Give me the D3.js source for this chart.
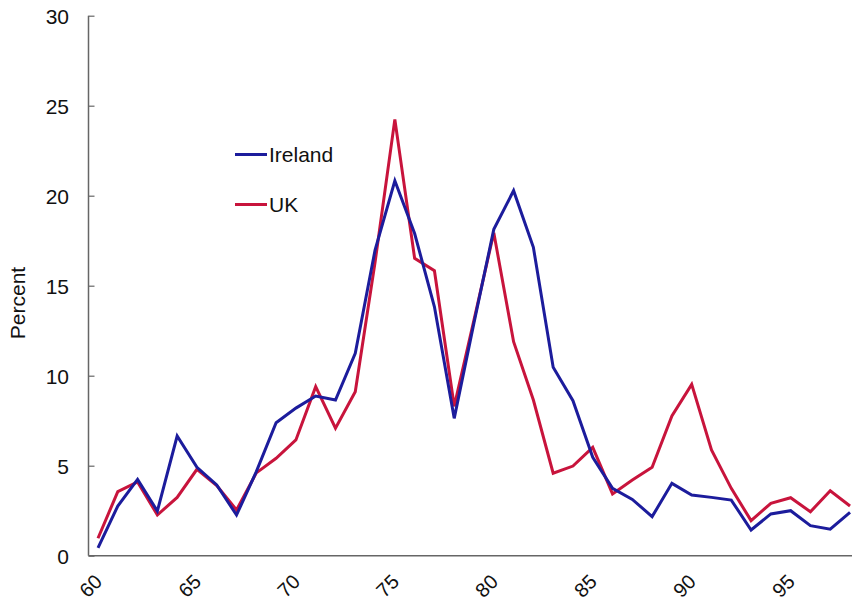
<!DOCTYPE html>
<html><head><meta charset="utf-8">
<script src="https://cdn.jsdelivr.net/npm/d3@7"></script>
<style>body{margin:0;background:#fff}svg{display:block;font-family:"Liberation Sans",Arial,sans-serif}</style>
</head><body>
<svg id="c" width="854" height="604"></svg>
<script>
const years = d3.range(60, 99);
const ireland = [0.44,2.76,4.24,2.48,6.65,4.91,3.93,2.26,4.67,7.39,8.2,8.87,8.65,11.24,16.98,20.83,17.9,13.83,7.63,12.94,18.13,20.28,17.13,10.47,8.61,5.47,3.74,3.13,2.17,4.02,3.37,3.24,3.09,1.43,2.32,2.5,1.67,1.47,2.41];
const uk = [0.97,3.56,4.1,2.26,3.24,4.8,3.9,2.54,4.6,5.41,6.43,9.39,7.08,9.11,16.3,24.24,16.52,15.83,8.3,13.1,17.94,11.89,8.65,4.58,4.98,6.02,3.43,4.2,4.91,7.76,9.52,5.87,3.74,1.95,2.91,3.22,2.44,3.61,2.76];
const yTicks = [0,5,10,15,20,25,30];
const xTicks = [60,65,70,75,80,85,90,95];
const seriesNames = ["Ireland","UK"];
const colors = ["#1c1c9c","#c8143c"];

const svg = d3.select("#c");
const x = d3.scaleLinear().domain([59.52, 98.1]).range([88.5, 852]);
const y = d3.scaleLinear().domain([0, 30]).range([555.7, 15.7]);

// y axis
const ya = svg.append("g").attr("transform","translate(88.5,0)")
  .call(d3.axisRight(y).tickValues(yTicks).tickSize(6));
ya.select(".domain").attr("stroke","#666").attr("stroke-width",1.5).attr("d","M0,15.7V555.7");
ya.selectAll(".tick line").attr("stroke","#666").attr("stroke-width",1.2);
ya.selectAll(".tick text").attr("text-anchor","end").attr("x",-19.5).attr("dy","0.36em")
  .attr("font-size",21).attr("fill","#111").attr("font-family","Liberation Sans, Arial, sans-serif");

// x axis
const xa = svg.append("g").attr("transform","translate(0,555.7)")
  .call(d3.axisBottom(x).tickValues(xTicks).tickSize(0).tickFormat(d3.format("d")));
xa.select(".domain").attr("stroke","#666").attr("stroke-width",1.5).attr("d","M88.5,0H852");
xa.selectAll(".tick text").attr("y",0).attr("dy","0.36em")
  .attr("transform","translate(-8,30) rotate(-45)").attr("text-anchor","middle")
  .attr("font-size",20).attr("fill","#111").attr("font-family","Liberation Sans, Arial, sans-serif");

// y label
svg.append("text").attr("transform","translate(25,303) rotate(-90)").attr("text-anchor","middle")
  .attr("font-size",21).attr("fill","#111").text("Percent");

const line = d3.line().x((d,i)=>x(years[i])).y(d=>y(d));
[uk, ireland].forEach((s,k)=>{
  const idx = k===0?1:0;
  svg.append("path").datum(s).attr("d",line).attr("fill","none")
    .attr("stroke",colors[idx]).attr("stroke-width",3).attr("stroke-linejoin","miter");
});

// legend
const leg = svg.append("g");
seriesNames.forEach((n,i)=>{
  const ly = 154.5 + i*50;
  leg.append("line").attr("x1",235).attr("x2",267).attr("y1",ly).attr("y2",ly)
    .attr("stroke",colors[i]).attr("stroke-width",3);
  leg.append("text").attr("x",269).attr("y",ly).attr("dy","0.36em").attr("font-size",21).attr("fill","#111").text(n);
});
</script>
</body></html>
